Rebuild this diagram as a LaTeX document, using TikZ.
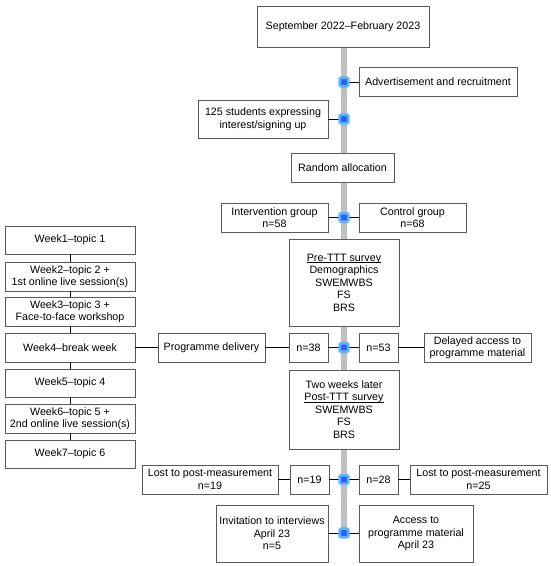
\documentclass[tikz,border=0pt]{standalone}
\usepackage{fontspec}
\setmainfont{Liberation Sans}
\newcommand\myul[1]{\setbox0\hbox{#1}\rlap{\rule[-1.7pt]{\wd0}{0.6pt}}\box0}
\begin{document}
\begin{tikzpicture}[x=1pt,y=-1pt,
  box/.style={draw=black!65,line width=0.7pt,fill=white,align=center,inner sep=1pt,
    font=\fontsize{10.7}{12.5}\selectfont},
  conn/.style={draw=black,line width=0.9pt},
  bar/.style={draw=black!25,line width=6pt},
  dot/.style={draw={rgb,255:red,90;green,180;blue,255},fill={rgb,255:red,40;green,95;blue,245},
    line width=2.6pt,minimum size=8.5pt,inner sep=0pt,rounded corners=1.2pt}]
\useasboundingbox (0,0) rectangle (550,566);
\def\bx#1#2#3#4#5#6{\node[box,minimum width=#4pt,minimum height=#5pt] (#1) at (#2,#3) {#6};}
% bar
\coordinate (bartop) at (344,47);
\coordinate (barbot) at (344,533);
\draw[bar] (bartop) -- (barbot);
% main column
\bx{top}{343}{26.5}{172}{41}{September 2022–February 2023}
\bx{ad}{438}{82}{158}{29}{Advertisement and recruitment}
\bx{stud}{263}{119}{130}{38}{125 students expressing\\interest/signing up}
\bx{rand}{342.5}{167.5}{103}{29}{Random allocation}
\bx{int}{274.5}{217.5}{107}{29}{Intervention group\\n=58}
\bx{ctrl}{412.5}{217.5}{107}{29}{Control group\\n=68}
\bx{pre}{344}{282.5}{110}{87}{\myul{Pre-TTT survey}\\Demographics\\SWEMWBS\\FS\\BRS}
\bx{prog}{211.5}{347.5}{107}{29}{Programme delivery}
\bx{n38}{308.5}{347.5}{39}{29}{n=38}
\bx{n53}{378.5}{347.5}{39}{29}{n=53}
\bx{del}{477.5}{347.5}{107}{29}{Delayed access to\\programme material}
\bx{post}{344}{409.5}{110}{79}{Two weeks later\\\myul{Post-TTT survey}\\SWEMWBS\\FS\\BRS}
\bx{lostL}{210}{479.5}{136}{29}{Lost to post-measurement\\n=19}
\bx{n19}{309.5}{479.5}{39}{29}{n=19}
\bx{n28}{378.5}{479.5}{39}{29}{n=28}
\bx{lostR}{478.5}{479.5}{137}{29}{Lost to post-measurement\\n=25}
\bx{inv}{272}{533.5}{112}{57}{Invitation to interviews\\April 23\\n=5}
\bx{acc}{416}{533.5}{114}{57}{Access to\\programme material\\April 23}
% weeks
\bx{w1}{70}{240}{130}{28}{Week1–topic 1}
\bx{w2}{70}{276.5}{130}{29}{Week2–topic 2 +\\1st online live session(s)}
\bx{w3}{70}{311.5}{130}{29}{Week3–topic 3 +\\Face-to-face workshop}
\bx{w4}{70}{347.5}{130}{29}{Week4–break week}
\bx{w5}{70}{383}{130}{28}{Week5–topic 4}
\bx{w6}{70}{418.5}{130}{29}{Week6–topic 5 +\\2nd online live session(s)}
\bx{w7}{70}{454}{130}{28}{Week7–topic 6}
% dots (coordinates)
\coordinate (d1) at (344,82);
\coordinate (d2) at (344,119);
\coordinate (d3) at (344,217.5);
\coordinate (d4) at (344,347.5);
\coordinate (d5) at (344,479.5);
\coordinate (d6) at (344,533);
% connectors
\draw[conn] (ad.west) -- (d1);
\draw[conn] (stud.east) -- (d2);
\draw[conn] (int.east) -- (ctrl.west);
\draw[conn] (w4.east) -- (prog.west);
\draw[conn] (prog.east) -- (n38.west);
\draw[conn] (n38.east) -- (n53.west);
\draw[conn] (n53.east) -- (del.west);
\draw[conn] (lostL.east) -- (n19.west);
\draw[conn] (n19.east) -- (n28.west);
\draw[conn] (n28.east) -- (lostR.west);
\draw[conn] (inv.east) -- (acc.west);
\foreach \a/\b in {w1/w2,w2/w3,w3/w4,w4/w5,w5/w6,w6/w7}
  \draw[conn] (\a.south) -- (\b.north);
% dots
\foreach \d in {d1,d2,d3,d4,d5,d6}
  \node[dot] at (\d) {};
\end{tikzpicture}
\end{document}
